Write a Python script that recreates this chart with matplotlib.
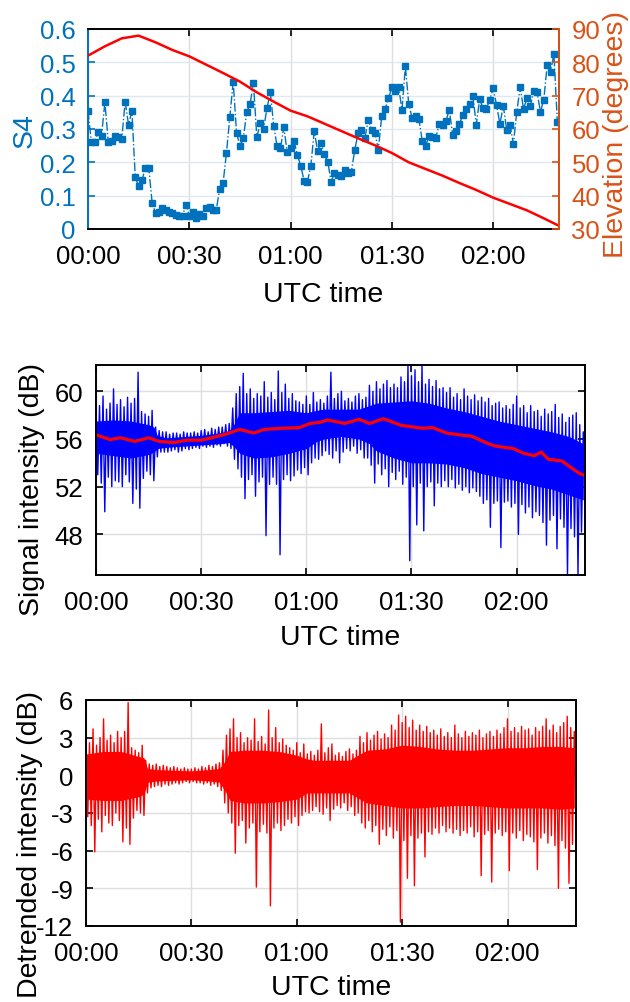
import numpy as np
import matplotlib
matplotlib.use("Agg")
import matplotlib.pyplot as plt

plt.rcParams['font.family'] = ['Liberation Sans', 'DejaVu Sans']
plt.rcParams['axes.unicode_minus'] = False

# S4 index, one value per minute from 00:00
s4 = [0.355, 0.26, 0.262, 0.29, 0.28, 0.38, 0.262, 0.265, 0.278, 0.277,
      0.27, 0.382, 0.313, 0.353, 0.155, 0.128, 0.147, 0.183, 0.183, 0.078,
      0.047, 0.05, 0.063, 0.058, 0.05, 0.047, 0.043, 0.04, 0.04, 0.073,
      0.04, 0.052, 0.034, 0.045, 0.04, 0.062, 0.065, 0.058, 0.058, 0.12,
      0.137, 0.228, 0.335, 0.442, 0.288, 0.25, 0.272, 0.35, 0.375, 0.438,
      0.275, 0.317, 0.3, 0.362, 0.41, 0.31, 0.248, 0.242, 0.305, 0.23,
      0.243, 0.265, 0.222, 0.19, 0.145, 0.142, 0.19, 0.293, 0.235, 0.258,
      0.225, 0.202, 0.142, 0.168, 0.162, 0.158, 0.177, 0.168, 0.172, 0.237,
      0.288, 0.298, 0.272, 0.328, 0.297, 0.287, 0.238, 0.34, 0.36, 0.392,
      0.425, 0.415, 0.425, 0.358, 0.488, 0.375, 0.332, 0.34, 0.33, 0.265,
      0.25, 0.278, 0.275, 0.272, 0.315, 0.312, 0.323, 0.358, 0.283, 0.295,
      0.315, 0.342, 0.36, 0.375, 0.398, 0.313, 0.39, 0.362, 0.36, 0.388,
      0.422, 0.372, 0.315, 0.37, 0.298, 0.312, 0.255, 0.352, 0.425, 0.36,
      0.392, 0.368, 0.415, 0.41, 0.352, 0.388, 0.492, 0.472, 0.525, 0.322]
s4_t = np.arange(len(s4))

# satellite elevation (degrees)
elev_t = [0, 5, 10, 15, 20, 25, 30, 35, 40, 45, 50, 55, 60, 65, 70, 75, 80,
          85, 90, 95, 100, 105, 110, 115, 120, 125, 130, 135, 139]
elev = [82, 84.8, 87.2, 88, 86, 83.7, 81.8, 79.3, 76.8, 74.2, 71, 68.2, 65.5,
        63.8, 61.6, 59.4, 57.2, 55.1, 52.8, 50, 48, 46, 43.8, 41.7, 39.4,
        37.5, 35.6, 33.2, 31.2]

# signal intensity envelope (dB), per minute: upper / lower excursions
sig_hi = [58.6, 58.8, 59.6, 58.5, 59.0, 60.2, 58.9, 59.3, 58.7, 59.5, 59.0, 59.4, 61.6, 58.3, 58.1, 57.9, 58.4,
          57.0, 56.7, 56.6, 56.6, 56.4, 56.5, 56.5, 56.4, 56.6, 56.5, 56.5, 56.6, 56.5, 56.7, 56.8, 56.6, 56.9,
          56.8, 57.0, 57.0, 57.2, 57.3,
          58.6, 59.8, 60.4, 61.5, 59.8, 60.2, 59.4, 59.8, 59.6, 60.8, 59.5, 59.9, 59.3, 61.7, 59.9, 60.6, 59.4,
          59.8, 59.2, 59.1, 58.9, 59.6, 58.9, 59.9, 59.1,
          59.3, 59.0, 59.6, 61.6, 59.4, 59.8, 60.0, 59.2, 59.4, 59.1, 59.6, 59.8, 59.3, 59.5,
          60.5, 60.0, 60.8, 60.2, 60.6, 60.9, 60.3, 60.6, 60.3, 61.2, 60.8, 62.3, 61.3, 61.8, 60.8, 62.3, 60.6,
          61.0, 60.4, 60.9, 60.2, 60.3, 59.9, 60.3,
          59.5, 59.8, 59.3, 60.2, 59.6, 59.3, 59.7, 59.2, 59.5, 59.1, 59.4, 58.8, 59.0, 59.1, 58.6,
          58.8, 58.5, 58.9, 59.6, 58.6, 58.8, 58.2, 58.8, 58.3, 58.4, 57.9, 58.5, 58.1, 58.3, 58.9, 57.8, 58.1,
          57.4, 57.8, 58.0, 58.2, 57.2, 56.6]
sig_lo = [53.0, 52.3, 49.9, 52.8, 52.0, 52.5, 52.4, 52.0, 53.0, 52.4, 50.6, 51.8, 50.2, 52.7, 53.3, 53.0, 52.5,
          54.5, 54.9, 54.9, 54.9, 55.0, 55.1, 54.9, 55.0, 55.2, 55.1, 55.2, 55.3, 55.2, 55.4, 55.3, 55.4, 55.3,
          55.5, 55.4, 55.6, 55.4, 55.2,
          54.3, 53.5, 52.8, 51.0, 52.6, 53.0, 51.2, 52.4, 52.8, 47.9, 52.2, 52.8, 52.2, 46.3, 52.6, 53.0, 52.5,
          52.9, 53.4, 53.1, 53.6, 53.0, 54.0, 54.4, 54.3,
          54.6, 55.0, 54.7, 54.4, 55.0, 54.0, 54.9, 55.2, 55.0, 55.4, 54.8, 55.1, 54.4, 54.4,
          53.8, 52.3, 53.9, 53.0, 53.5, 52.0, 53.2, 52.6, 53.3, 52.2, 52.8, 45.8, 52.0, 48.8, 52.3, 48.3, 52.0,
          52.4, 50.4, 52.3, 52.0, 52.5, 52.0, 52.6,
          51.9, 52.2, 51.7, 52.0, 51.5, 51.9, 51.6, 51.2, 50.6, 50.9, 48.6, 50.6, 50.8, 46.9, 50.7,
          50.8, 50.3, 50.6, 48.0, 50.5, 49.8, 50.3, 49.4, 49.9, 49.6, 49.0, 47.1, 49.2, 49.6, 46.8, 49.3, 48.6,
          44.6, 48.5, 47.8, 44.6, 48.2, 49.6]

# trend of the signal intensity (dB)
trend_t = [0, 4, 7, 11, 15, 18, 22, 26, 30, 33, 37, 41, 45, 48, 53, 58, 61, 64, 66, 71,
           75, 78, 82, 87, 93, 96, 100, 105, 107, 112, 114, 119, 122, 125, 127, 129, 133, 136, 138, 139]
trend = [56.35, 55.95, 56.1, 55.8, 56.1, 55.8, 55.7, 55.9, 55.9, 56.1, 56.4, 56.8, 56.5, 56.8,
         56.9, 56.95, 57.3, 57.4, 57.6, 57.3, 57.65, 57.3, 57.7, 57.15, 56.9, 56.95, 56.5, 56.3,
         56.25, 55.6, 55.4, 55.2, 54.8, 54.6, 54.9, 54.3, 54.15, 53.5, 53.1, 53.0]

# detrended intensity envelope (dB), per minute
det_hi = [1.8, 2.6, 3.7, 2.4, 3.0, 4.5, 2.8, 3.2, 2.6, 3.5, 3.0, 3.5, 5.8, 2.2, 2.0, 1.8, 2.4,
          1.2, 0.9, 0.8, 0.9, 0.7, 0.8, 0.7, 0.6, 0.7, 0.6, 0.5, 0.6, 0.5, 0.5, 0.6, 0.5, 0.7, 0.6,
          0.8, 0.7, 0.9, 1.0,
          2.0, 3.2, 3.7, 4.5, 3.0, 3.4, 2.6, 3.0, 2.8, 4.5, 2.7, 3.1, 2.5, 5.2, 3.0, 3.8, 2.6, 2.9,
          2.4, 2.2, 2.0, 2.6, 1.8, 2.5, 1.7,
          1.9, 1.6, 2.0, 4.1, 1.8, 2.2, 2.5, 1.6, 1.8, 1.5, 1.9, 2.1, 1.7, 2.0,
          3.1, 2.6, 3.4, 2.8, 3.2, 3.5, 2.9, 3.3, 3.0, 4.0, 3.6, 4.8, 4.2, 4.7, 3.8, 4.4, 3.6, 4.0,
          3.5, 3.9, 3.4, 3.6, 3.2, 3.7,
          3.1, 3.4, 3.0, 4.0, 3.3, 3.0, 3.5, 3.1, 3.4, 3.2, 3.6, 3.0, 3.3, 3.5, 3.1,
          3.6, 3.3, 3.8, 4.5, 3.5, 3.8, 3.4, 3.9, 3.6, 3.7, 3.2, 3.8, 3.5, 3.9, 4.5, 3.6, 4.0, 3.4,
          3.9, 4.2, 4.7, 3.8, 3.5]
det_lo = [-3.3, -4.0, -6.1, -3.5, -4.5, -3.2, -3.8, -4.0, -3.0, -3.6, -5.3, -4.2, -5.5, -3.4, -2.8, -3.0, -3.2,
          -1.4, -1.0, -0.9, -0.8, -0.9, -0.7, -0.8, -0.7, -0.6, -0.7, -0.6, -0.5, -0.6, -0.5, -0.6, -0.6,
          -0.7, -0.6, -0.8, -0.7, -0.9, -1.2,
          -2.2, -3.0, -3.8, -6.2, -4.0, -3.6, -5.4, -4.2, -3.8, -8.9, -4.5, -3.9, -4.6, -10.4, -4.2, -3.8,
          -4.4, -4.0, -3.5, -3.8, -3.3, -4.0, -3.2, -2.9, -3.0,
          -2.8, -2.5, -2.9, -3.1, -2.6, -3.6, -2.7, -2.4, -2.6, -2.2, -2.8, -2.5, -3.2, -3.0,
          -3.8, -4.2, -3.6, -4.5, -4.0, -5.5, -4.3, -4.8, -4.1, -5.0, -4.4, -11.7, -5.2, -8.2, -4.8, -8.8,
          -5.0, -4.6, -6.5, -4.5, -4.7, -4.2, -4.6, -4.0,
          -4.5, -4.2, -4.6, -4.3, -4.8, -4.4, -4.6, -4.1, -4.9, -4.5, -8.0, -4.7, -4.4, -8.5, -4.6,
          -4.3, -4.8, -4.5, -7.6, -4.6, -5.0, -4.4, -5.2, -4.7, -4.9, -5.3, -7.5, -5.0, -4.6, -5.4, -4.8,
          -5.6, -9.0, -5.2, -5.8, -8.6, -5.5, -4.5]
env_t = np.arange(len(det_hi))

# edges of the densely filled core of both noisy traces
core_t = [0, 5, 10, 15, 16.5, 17.5, 20, 25, 30, 35, 38, 39.5, 41, 45, 50, 55, 60, 63,
          65, 70, 75, 78, 80, 85, 90, 95, 100, 105, 110, 115, 120, 125, 130, 135, 139]
sig_core_hi = [57.5, 57.6, 57.5, 57.2, 57.0, 56.3, 56.1, 56.2, 56.3, 56.5, 56.7, 57.3, 58.2,
               58.2, 58.3, 58.4, 58.2, 58.4, 58.5, 58.5, 58.5, 58.8, 59.0, 59.1, 59.2, 59.0,
               58.6, 58.3, 57.9, 57.5, 57.2, 56.9, 56.6, 56.2, 55.6]
sig_core_lo = [54.8, 54.6, 54.4, 54.7, 54.9, 55.2, 55.3, 55.4, 55.5, 55.6, 55.7, 55.3, 54.8,
               54.4, 54.5, 54.8, 55.2, 55.8, 56.0, 56.2, 56.0, 55.6, 55.0, 54.4, 54.0, 54.0,
               53.9, 53.6, 53.1, 52.8, 52.5, 52.1, 51.8, 51.3, 50.9]
det_core_hi = [1.7, 1.9, 1.9, 1.5, 1.4, 0.55, 0.45, 0.4, 0.35, 0.45, 0.55, 1.1, 1.9, 2.0, 2.0,
               1.9, 1.6, 1.3, 1.2, 1.2, 1.2, 1.7, 2.0, 2.1, 2.4, 2.3, 2.1, 2.0, 2.0, 2.1, 2.2,
               2.2, 2.3, 2.3, 2.2]
det_core_lo = [-1.9, -2.0, -2.0, -1.7, -1.5, -0.55, -0.45, -0.4, -0.35, -0.45, -0.55, -1.2,
               -2.0, -2.2, -2.2, -2.1, -1.9, -1.4, -1.4, -1.4, -1.4, -1.9, -2.2, -2.4, -2.6,
               -2.6, -2.5, -2.4, -2.4, -2.5, -2.6, -2.6, -2.6, -2.7, -2.6]

xticks = [0, 30, 60, 90, 120]
xlabels = ['00:00', '00:30', '01:00', '01:30', '02:00']

blue_s4 = '#0072BD'
orange = '#D95319'
TICK = 18.5
LAB = 20.5


def zigzag(t, hi, lo):
    # alternate between the upper and lower excursion of each minute
    x = np.column_stack([t, np.asarray(t) + 0.5]).ravel()
    y = np.column_stack([hi, lo]).ravel()
    return x, y


def style(ax):
    ax.set_xlim(0, 139.5)
    ax.set_xticks(xticks)
    ax.set_xticklabels(xlabels)
    ax.tick_params(direction='in', length=5, width=1.2, labelsize=TICK,
                   top=True, right=True, pad=9)
    ax.tick_params(axis='x', pad=11)
    ax.grid(True, color='#dedede', linewidth=1)
    ax.set_axisbelow(True)
    for sp in ax.spines.values():
        sp.set_linewidth(1.4)


def put_labels(ax, xl_y, yl_x, yl_y):
    ax.xaxis.set_label_coords(0.5, xl_y)
    ax.xaxis.label.set_va('center')
    ax.yaxis.set_label_coords(yl_x, yl_y)
    ax.yaxis.label.set_va('center')


fig = plt.figure(figsize=(6.3, 10.03), dpi=100)

# --- S4 and elevation ---
ax1 = fig.add_axes([0.1397, 0.7707, 0.7476, 0.1994])
style(ax1)
ax1.tick_params(right=False)
ax1.grid(False)
ax1.xaxis.grid(True, color='#dedede', linewidth=1)
ax1.yaxis.grid(True, color='#dde8f2', linewidth=1)
ax1.plot(s4_t, s4, '-.s', color=blue_s4, lw=1, ms=4.2)
ax1.set_ylim(0, 0.6)
ax1.set_yticks([0, 0.1, 0.2, 0.3, 0.4, 0.5, 0.6])
ax1.set_yticklabels(['0', '0.1', '0.2', '0.3', '0.4', '0.5', '0.6'])
ax1.tick_params(axis='y', colors=blue_s4)
ax1.spines['left'].set_color(blue_s4)
ax1.set_ylabel('S4', color=blue_s4, fontsize=LAB)
ax1.set_xlabel('UTC time', fontsize=LAB)
put_labels(ax1, -0.325, -0.135, 0.495)

ax2 = ax1.twinx()
ax2.plot(elev_t, elev, color='red', lw=1.8)
ax2.set_ylim(30, 90)
ax2.set_yticks([30, 40, 50, 60, 70, 80, 90])
ax2.tick_params(axis='y', direction='in', length=5, width=1.2, labelsize=TICK,
                colors=orange, pad=9)
ax2.spines['right'].set_color(orange)
ax2.spines['right'].set_linewidth(1.4)
ax2.spines['left'].set_visible(False)
ax2.spines['top'].set_visible(False)
ax2.spines['bottom'].set_visible(False)
ax2.set_ylabel('Elevation (degrees)', color=orange, fontsize=LAB)
ax2.yaxis.set_label_coords(1.121, 0.475)
ax2.yaxis.label.set_va('center')
ax2.set_xlim(0, 139.5)

# --- signal intensity ---
ax3 = fig.add_axes([0.1524, 0.4257, 0.7762, 0.2094])
style(ax3)
ax3.fill_between(core_t, sig_core_lo, sig_core_hi, color='blue', lw=0)
sx, sy = zigzag(env_t, sig_hi, sig_lo)
ax3.plot(sx, sy, color='blue', lw=1.0)
ax3.plot(trend_t, trend, color='red', lw=2.3)
ax3.set_ylim(44.6, 62.2)
ax3.set_yticks([48, 52, 56, 60])
ax3.set_ylabel('Signal intensity (dB)', fontsize=LAB)
ax3.set_xlabel('UTC time', fontsize=LAB)
put_labels(ax3, -0.295, -0.131, 0.41)

# --- detrended intensity ---
ax4 = fig.add_axes([0.1365, 0.0758, 0.7778, 0.2253])
style(ax4)
ax4.fill_between(core_t, det_core_lo, det_core_hi, color='red', lw=0)
dx, dy = zigzag(env_t, det_hi, det_lo)
ax4.plot(dx, dy, color='red', lw=1.0)
ax4.set_ylim(-12, 6)
ax4.set_yticks([-12, -9, -6, -3, 0, 3, 6])
ax4.set_ylabel('Detrended intensity (dB)', fontsize=LAB)
ax4.set_xlabel('UTC time', fontsize=LAB)
put_labels(ax4, -0.27, -0.114, 0.363)

fig.savefig('out.png', dpi=100)
